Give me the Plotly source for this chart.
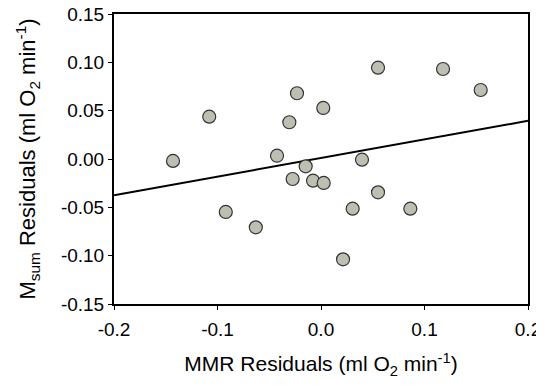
import plotly.graph_objects as go

mmr_resid = [-0.143, -0.108, -0.092, -0.063, -0.0425, -0.0306, -0.0232, -0.0274, -0.0148,
             -0.0077, 0.0026, 0.0022, 0.0213, 0.0306, 0.0396, 0.0551, 0.0551, 0.0863, 0.1179, 0.1543]
msum_resid = [-0.002, 0.0438, -0.0548, -0.0707, 0.0034, 0.038, 0.068, -0.0207, -0.0076,
              -0.0224, -0.0248, 0.0528, -0.1038, -0.0514, -0.0007, 0.0945, -0.0345, -0.0514, 0.0931, 0.0714]
fit_x = [-0.2, 0.2]
fit_y = [-0.0375, 0.0395]

x_ticks = [-0.2, -0.1, 0.0, 0.1, 0.2]
x_tick_labels = ["-0.2", "-0.1", "0.0", "0.1", "0.2"]
y_ticks = [-0.15, -0.10, -0.05, 0.0, 0.05, 0.10, 0.15]
y_tick_labels = ["-0.15", "-0.10", "-0.05", "0.00", "0.05", "0.10", "0.15"]

fig = go.Figure()
fig.add_trace(go.Scatter(x=fit_x, y=fit_y, mode="lines",
                         line=dict(color="black", width=2), showlegend=False, hoverinfo="skip"))
fig.add_trace(go.Scatter(x=mmr_resid, y=msum_resid, mode="markers",
                         marker=dict(size=13, color="#bdbfb2", line=dict(color="#333333", width=1.2)),
                         showlegend=False))

font = "Liberation Sans, Arial, sans-serif"
fig.update_layout(
    width=536, height=377,
    margin=dict(l=106, r=16, t=6, b=81, autoexpand=False),
    paper_bgcolor="white", plot_bgcolor="white",
    font=dict(family=font, color="black", size=18),
    xaxis=dict(range=[-0.2, 0.2], tickvals=x_ticks, ticktext=x_tick_labels, automargin=False,
               showgrid=False, zeroline=False, showline=True, linecolor="black", linewidth=2,
               mirror=True, ticks="outside", ticklen=4, tickwidth=1, tickcolor="black",
               tickfont=dict(size=19), ticklabelstandoff=3, ticklabeloverflow="allow",
               title=dict(text="MMR Residuals (ml O<sub>2</sub> min<sup>-1</sup>)", font=dict(size=21), standoff=18)),
    yaxis=dict(range=[-0.15, 0.15], tickvals=y_ticks, ticktext=y_tick_labels, automargin=False,
               showgrid=False, zeroline=False, showline=True, linecolor="black", linewidth=2,
               mirror=True, ticks="outside", ticklen=4, tickwidth=1, tickcolor="black",
               tickfont=dict(size=19), ticklabeloverflow="allow",
               title=dict(text="M<sub>sum</sub> Residuals (ml O<sub>2</sub> min<sup>-1</sup>)", font=dict(size=22), standoff=19)),
)

fig.write_html("out.html")
